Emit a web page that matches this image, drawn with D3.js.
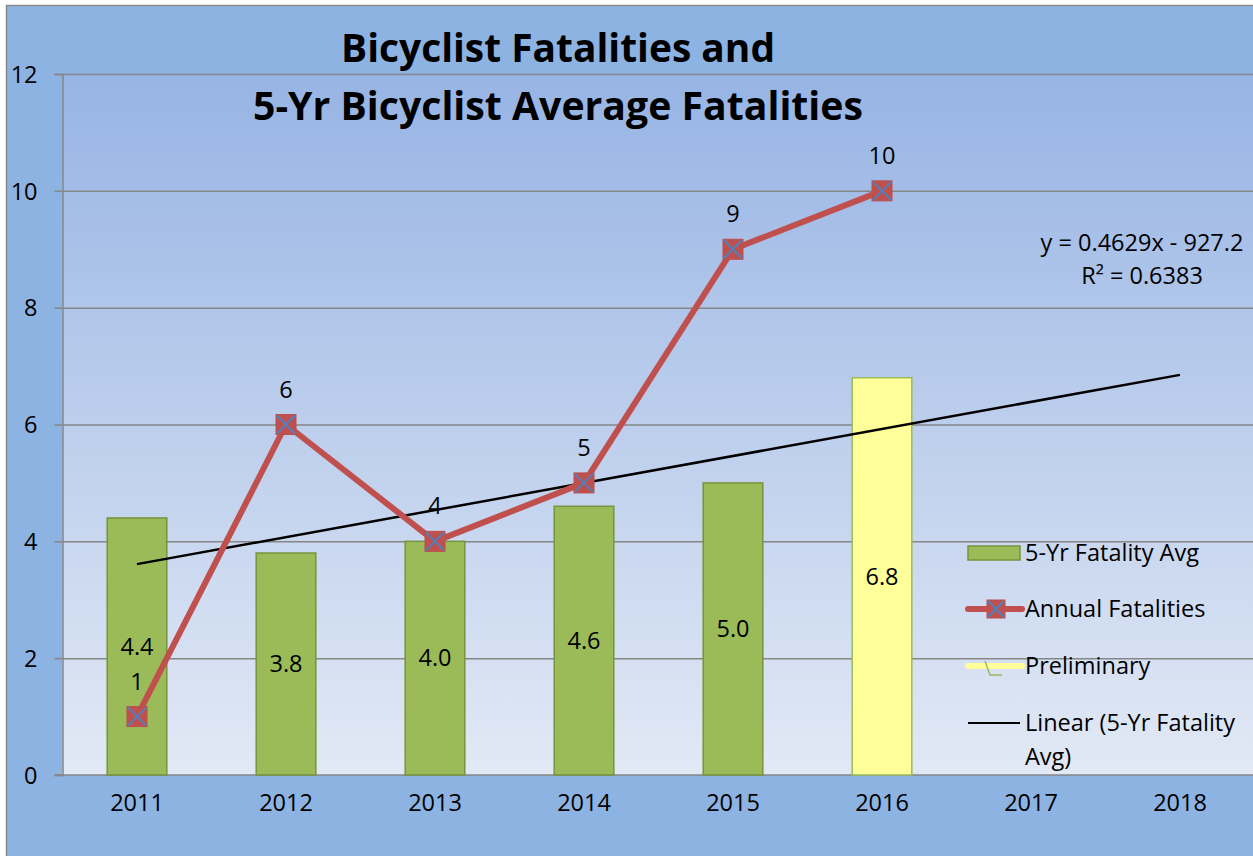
<!DOCTYPE html>
<html>
<head>
<meta charset="utf-8">
<script src="https://cdn.jsdelivr.net/npm/d3@7"></script>
<style>
  html, body { margin: 0; padding: 0; background: #fff; }
  svg { display: block; font-family: "Open Sans", "Noto Sans", sans-serif; }
</style>
</head>
<body>
<div id="chart"></div>
<script>
// Chart data
const years = ["2011", "2012", "2013", "2014", "2015", "2016", "2017", "2018"];
const avgYears = ["2011", "2012", "2013", "2014", "2015", "2016"];
const avgValues = [4.4, 3.8, 4.0, 4.6, 5.0, 6.8];
const preliminary = [false, false, false, false, false, true];
const annualYears = ["2011", "2012", "2013", "2014", "2015", "2016"];
const annualValues = [1, 6, 4, 5, 9, 10];
const yTicks = [0, 2, 4, 6, 8, 10, 12];
const titleLines = ["Bicyclist Fatalities and", "5-Yr Bicyclist Average Fatalities"];
const legendLabels = ["5-Yr Fatality Avg", "Annual Fatalities", "Preliminary", "Linear (5-Yr Fatality", "Avg)"];

const width = 1253, height = 856;
const plot = {left: 62.5, right: 1254.5, top: 74, bottom: 775};
const fs = 23.5;

const svg = d3.select("#chart").append("svg")
    .attr("width", width)
    .attr("height", height);

const defs = svg.append("defs");
const grad = defs.append("linearGradient")
    .attr("id", "plotGrad")
    .attr("x1", 0).attr("y1", 0).attr("x2", 0).attr("y2", 1);
grad.append("stop").attr("offset", "0%").attr("stop-color", "#97b4e4");
grad.append("stop").attr("offset", "100%").attr("stop-color", "#e2e9f5");

// outer background
svg.append("rect")
    .attr("x", 0).attr("y", 0).attr("width", width).attr("height", height)
    .attr("fill", "#fff");
svg.append("rect")
    .attr("x", 6.5).attr("y", 5.5).attr("width", width + 10).attr("height", height + 10)
    .attr("fill", "#8db3e2")
    .attr("stroke", "#8c8c8c")
    .attr("stroke-width", 1.5);

const x = d3.scaleBand().domain(years).range([plot.left, plot.right]).padding(0);
const y = d3.scaleLinear().domain([0, 12]).range([plot.bottom, plot.top]);
const cx = d => x(d) + x.bandwidth() / 2;
const barW = x.bandwidth() * 0.4;

// plot area
svg.append("rect")
    .attr("x", plot.left).attr("y", plot.top)
    .attr("width", plot.right - plot.left).attr("height", plot.bottom - plot.top)
    .attr("fill", "url(#plotGrad)");

// gridlines + y axis
const yAxis = d3.axisLeft(y).tickValues(yTicks).tickSize(8)
    .tickFormat(d3.format("d"));
const yg = svg.append("g")
    .attr("transform", `translate(${plot.left},0)`)
    .call(yAxis)
    .attr("font-family", null);
yg.select(".domain").attr("stroke", "#868686").attr("stroke-width", 1.5);
yg.selectAll(".tick line").attr("stroke", "#868686").attr("stroke-width", 1.5);
yg.selectAll(".tick text")
    .attr("font-size", fs)
    .attr("fill", "#000")
    .attr("text-anchor", "end")
    .attr("x", -25)
    .attr("dy", "0.35em");
yg.selectAll(".tick").filter(d => d > 0).append("line")
    .attr("x1", 0).attr("x2", plot.right - plot.left)
    .attr("stroke", "#868686").attr("stroke-width", 1.5);

// x axis
const xg = svg.append("g")
    .attr("transform", `translate(0,${plot.bottom})`)
    .call(d3.axisBottom(x).tickSize(0).tickPadding(19))
    .attr("font-family", null);
xg.select(".domain").attr("stroke", "#868686").attr("stroke-width", 1.5);
xg.selectAll(".tick text").attr("font-size", fs).attr("fill", "#000");
xg.select(".domain").attr("d", `M${plot.left - 8},0H${plot.right}`);

// bars
svg.append("g").selectAll("rect")
    .data(avgYears)
    .join("rect")
    .attr("x", d => cx(d) - barW / 2)
    .attr("y", (d, i) => y(avgValues[i]))
    .attr("width", barW)
    .attr("height", (d, i) => y(0) - y(avgValues[i]))
    .attr("fill", (d, i) => preliminary[i] ? "#ffff99" : "#9bbb59")
    .attr("stroke", (d, i) => preliminary[i] ? "#9bbb59" : "#77933c")
    .attr("stroke-width", 1.5);

// bar labels
svg.append("g").selectAll("text")
    .data(avgYears)
    .join("text")
    .attr("x", d => cx(d))
    .attr("y", (d, i) => (y(avgValues[i]) + y(0)) / 2)
    .attr("dy", "0.35em")
    .attr("text-anchor", "middle")
    .attr("font-size", fs)
    .text((d, i) => d3.format(".1f")(avgValues[i]));

// linear trend on 5-yr avg
const xs = avgYears.map(Number);
const mx = d3.mean(xs), my = d3.mean(avgValues);
const slope = d3.sum(xs, (v, i) => (v - mx) * (avgValues[i] - my)) / d3.sum(xs, v => (v - mx) ** 2);
const intercept = my - slope * mx;
const trend = d3.line().x(d => cx(d)).y(d => y(slope * +d + intercept));
svg.append("path")
    .attr("d", trend([years[0], years[years.length - 1]]))
    .attr("stroke", "#000").attr("stroke-width", 2.5).attr("fill", "none");

// equation
const eq = svg.append("text").attr("text-anchor", "middle").attr("font-size", fs);
eq.append("tspan").attr("x", 1142).attr("y", 251).text("y = 0.4629x - 927.2");
eq.append("tspan").attr("x", 1142).attr("y", 284).text("R² = 0.6383");

// annual line
const line = d3.line().x(d => cx(d)).y((d, i) => y(annualValues[i]));
svg.append("path")
    .attr("d", line(annualYears))
    .attr("stroke", "#c0504d").attr("stroke-width", 6)
    .attr("stroke-linejoin", "round").attr("fill", "none");

function marker(g, px, py, s) {
    g.append("rect")
        .attr("x", px - s / 2).attr("y", py - s / 2).attr("width", s).attr("height", s)
        .attr("fill", "#c0504d").attr("stroke", "#b9504d");
    g.append("path")
        .attr("d", `M${px - s / 2 + 1},${py - s / 2 + 1}L${px + s / 2 - 1},${py + s / 2 - 1}M${px + s / 2 - 1},${py - s / 2 + 1}L${px - s / 2 + 1},${py + s / 2 - 1}`)
        .attr("stroke", "#4f81bd").attr("stroke-width", 2);
}
const mg = svg.append("g");
annualYears.forEach((d, i) => marker(mg, cx(d), y(annualValues[i]), 20));

svg.append("g").selectAll("text")
    .data(annualYears)
    .join("text")
    .attr("x", d => cx(d))
    .attr("y", (d, i) => y(annualValues[i]) - 27)
    .attr("text-anchor", "middle")
    .attr("font-size", fs)
    .text((d, i) => annualValues[i]);

// title
svg.append("g").selectAll("text")
    .data(titleLines)
    .join("text")
    .attr("x", 558)
    .attr("y", (d, i) => 62 + i * 58)
    .attr("text-anchor", "middle")
    .attr("font-size", 39)
    .attr("font-weight", "bold")
    .attr("textLength", (d, i) => i === 0 ? 434 : 610)
    .attr("lengthAdjust", "spacingAndGlyphs")
    .text(d => d);

// legend
const lg = svg.append("g");
const lx = 968, tx = 1025;
lg.append("rect").attr("x", 968).attr("y", 546).attr("width", 52).attr("height", 14)
    .attr("fill", "#9bbb59").attr("stroke", "#77933c").attr("stroke-width", 1.5);
lg.append("line").attr("x1", lx).attr("x2", lx + 54).attr("y1", 609).attr("y2", 609)
    .attr("stroke", "#c0504d").attr("stroke-width", 6).attr("stroke-linecap", "round");
marker(lg, lx + 28, 609, 18);
lg.append("line").attr("x1", lx).attr("x2", lx + 54).attr("y1", 666).attr("y2", 666)
    .attr("stroke", "#ffff99").attr("stroke-width", 6).attr("stroke-linecap", "round");
lg.append("path").attr("d", `M${lx + 17},661L${lx + 22},675L${lx + 34},675`)
    .attr("stroke", "#9bbb59").attr("stroke-width", 1.5).attr("fill", "none");
lg.append("line").attr("x1", lx).attr("x2", lx + 52).attr("y1", 723).attr("y2", 723)
    .attr("stroke", "#000").attr("stroke-width", 2);
const ly = [553, 609, 666, 723, 757];
lg.selectAll("text.lab")
    .data(legendLabels)
    .join("text")
    .attr("class", "lab")
    .attr("x", tx)
    .attr("y", (d, i) => ly[i])
    .attr("dy", "0.35em")
    .attr("font-size", fs)
    .text(d => d);
</script>
</body>
</html>
